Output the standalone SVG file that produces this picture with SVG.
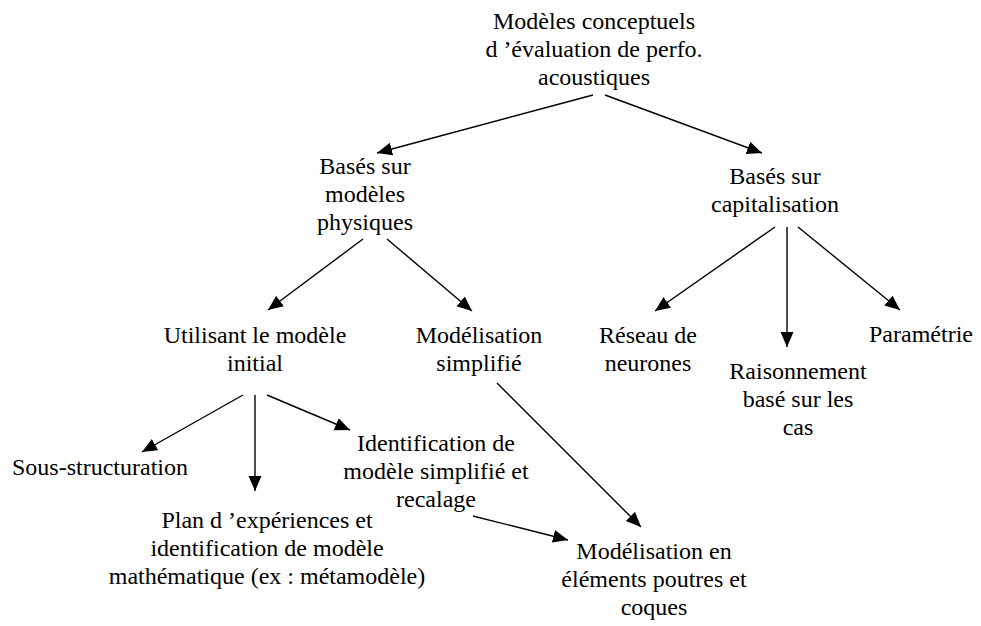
<svg xmlns="http://www.w3.org/2000/svg" width="981" height="626" viewBox="0 0 981 626">
  <style>
    text { font-family: 'Liberation Serif', 'DejaVu Serif', serif; font-size: 24px; fill: #000; text-anchor: middle; }
    .c { stroke: #000; stroke-width: 1.4; fill: none; marker-end: url(#ah); }
  </style>
  <defs>
    <marker id="ah" markerUnits="userSpaceOnUse" markerWidth="16" markerHeight="14" refX="15" refY="6.5" orient="auto">
      <path d="M0,0 L15,6.5 L0,13 z" fill="#000"/>
    </marker>
  </defs>
  <rect width="981" height="626" fill="#fff"/>
  <g id="connectors">
    <line class="c" x1="593" y1="95" x2="377" y2="153"/>
    <line class="c" x1="605" y1="95" x2="762" y2="153"/>
    <line class="c" x1="363" y1="239" x2="268" y2="310"/>
    <line class="c" x1="387" y1="239" x2="472" y2="311"/>
    <line class="c" x1="775" y1="227" x2="655" y2="311"/>
    <line class="c" x1="787" y1="227" x2="787" y2="347"/>
    <line class="c" x1="798" y1="227" x2="900" y2="310"/>
    <line class="c" x1="243" y1="395" x2="142" y2="452"/>
    <line class="c" x1="255" y1="395" x2="255" y2="491"/>
    <line class="c" x1="267" y1="395" x2="350" y2="430"/>
    <line class="c" x1="497" y1="383" x2="641" y2="527"/>
    <line class="c" x1="473" y1="516" x2="568" y2="540"/>
  </g>
  <g font-family="Liberation Serif, serif">
  <g id="n-root">
    <text x="594" y="29">Modèles conceptuels</text>
    <text x="594" y="57">d ’évaluation de perfo.</text>
    <text x="594" y="85">acoustiques</text>
  </g>
  <g id="n-physiques">
    <text x="365" y="174">Basés sur</text>
    <text x="365" y="202">modèles</text>
    <text x="365" y="230">physiques</text>
  </g>
  <g id="n-capitalisation">
    <text x="775" y="184">Basés sur</text>
    <text x="775" y="212">capitalisation</text>
  </g>
  <g id="n-utilisant">
    <text x="255" y="343">Utilisant le modèle</text>
    <text x="255" y="371">initial</text>
  </g>
  <g id="n-simplifie">
    <text x="479" y="343">Modélisation</text>
    <text x="479" y="371">simplifié</text>
  </g>
  <g id="n-reseau">
    <text x="648" y="343">Réseau de</text>
    <text x="648" y="371">neurones</text>
  </g>
  <g id="n-raisonnement">
    <text x="798" y="379">Raisonnement</text>
    <text x="798" y="407">basé sur les</text>
    <text x="798" y="435">cas</text>
  </g>
  <g id="n-parametrie">
    <text x="921" y="342">Paramétrie</text>
  </g>
  <g id="n-sous">
    <text x="100" y="475">Sous-structuration</text>
  </g>
  <g id="n-plan">
    <text x="267" y="528">Plan d ’expériences et</text>
    <text x="267" y="556">identification de modèle</text>
    <text x="267" y="584">mathématique (ex : métamodèle)</text>
  </g>
  <g id="n-identification">
    <text x="436" y="451">Identification de</text>
    <text x="436" y="479">modèle simplifié et</text>
    <text x="436" y="507">recalage</text>
  </g>
  <g id="n-poutres">
    <text x="654" y="559">Modélisation en</text>
    <text x="654" y="587">éléments poutres et</text>
    <text x="654" y="615">coques</text>
  </g>
  </g>
</svg>
